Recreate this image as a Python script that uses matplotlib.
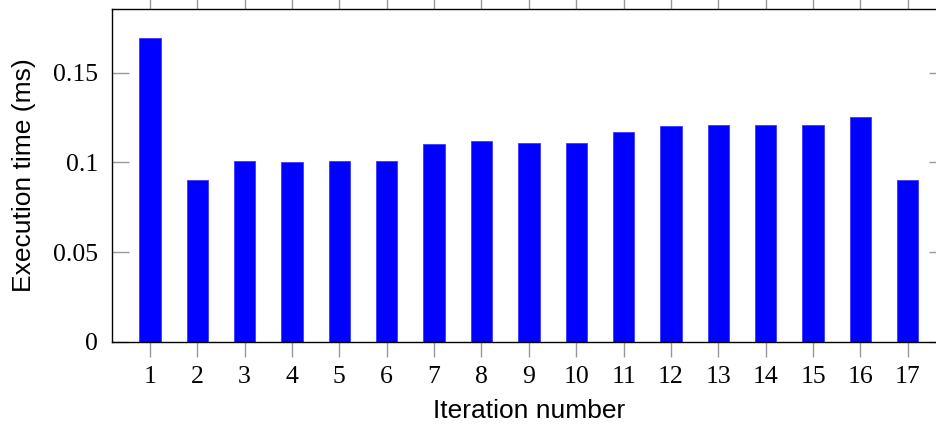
import matplotlib
matplotlib.use("Agg")
import matplotlib.pyplot as plt

iterations = list(range(1, 18))
exec_times = [0.169, 0.090, 0.101, 0.100, 0.101, 0.101, 0.110, 0.112, 0.111,
              0.111, 0.117, 0.120, 0.121, 0.121, 0.121, 0.125, 0.090]
ytick_vals = [0, 0.05, 0.1, 0.15]
ytick_labels = ["0", "0.05", "0.1", "0.15"]

fig = plt.figure(figsize=(9.36, 4.26), dpi=100)
ax = fig.add_axes([112/936, 84/426, (945.7-112)/936, (342-9)/426])

ax.bar(iterations, exec_times, width=0.45, color="#0000ff", edgecolor="#3a3aff", linewidth=0.6)

ax.set_xlim(0.2, 17.8)
ax.set_ylim(0, 0.1854)
ax.set_xticks(iterations)
ax.set_xticklabels([str(i) for i in iterations], family="Liberation Serif", fontsize=18.5)
ax.set_yticks(ytick_vals)
ax.set_yticklabels(ytick_labels, family="Liberation Serif", fontsize=18.5)

ax.tick_params(axis="x", which="both", direction="out", length=11, width=1,
               color="#999999", top=True, bottom=True, labeltop=False, pad=6)
ax.tick_params(axis="y", which="both", direction="in", length=12, width=1,
               color="#999999", left=True, right=True, pad=10)

for s in ax.spines.values():
    s.set_color("black")
    s.set_linewidth(1)

ax.set_xlabel("Iteration number", family="Liberation Sans", fontsize=19, labelpad=8)
ax.set_ylabel("Execution time (ms)", family="Liberation Sans", fontsize=19, labelpad=12)

fig.savefig("out.png", dpi=100)
